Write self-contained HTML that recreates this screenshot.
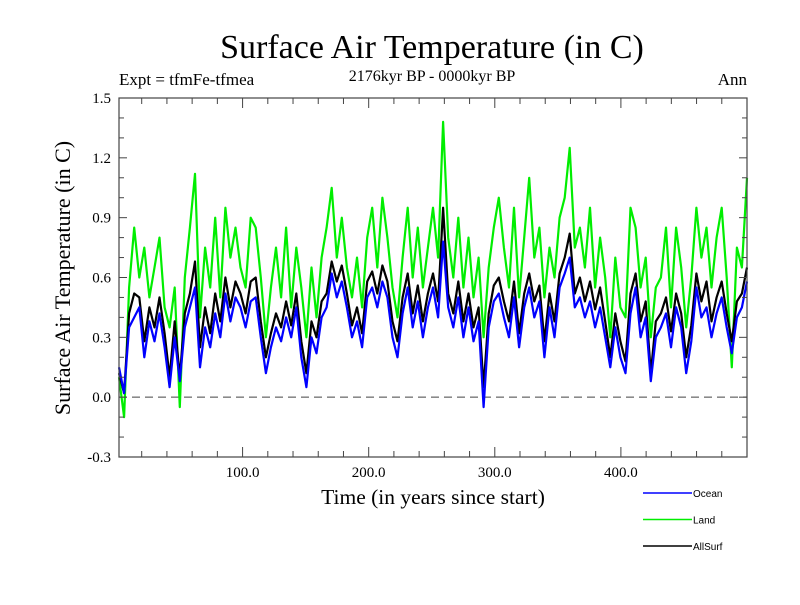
<!DOCTYPE html>
<html><head><meta charset="utf-8"><style>
body{margin:0;background:#fff}
svg text{font-family:"Liberation Serif",serif}
</style></head><body>
<svg id="chart" width="800" height="600" xmlns="http://www.w3.org/2000/svg">
<rect width="800" height="600" fill="#fff"/>
<text x="432" y="58" font-size="34" text-anchor="middle">Surface Air Temperature (in C)</text>
<text x="119" y="85" font-size="17">Expt = tfmFe-tfmea</text>
<text x="432" y="81" font-size="16" text-anchor="middle">2176kyr BP - 0000kyr BP</text>
<text x="747" y="85" font-size="17" text-anchor="end">Ann</text>
<text transform="translate(70,278) rotate(-90)" font-size="22" text-anchor="middle">Surface Air Temperature (in C)</text>
<text x="433" y="504" font-size="21.5" text-anchor="middle">Time (in years since start)</text>
<g id="plot"></g>
<g id="axes"></g>
<g id="legend"></g>
</svg>
<script>
const ocean=[0.15,0.02,0.35,0.40,0.45,0.20,0.38,0.28,0.42,0.25,0.05,0.30,0.08,0.35,0.45,0.55,0.15,0.35,0.25,0.42,0.30,0.52,0.38,0.50,0.45,0.35,0.48,0.50,0.30,0.12,0.25,0.35,0.28,0.40,0.30,0.45,0.20,0.05,0.30,0.22,0.40,0.45,0.62,0.50,0.58,0.45,0.30,0.38,0.25,0.50,0.55,0.45,0.58,0.50,0.30,0.20,0.42,0.55,0.35,0.48,0.30,0.45,0.55,0.40,0.78,0.45,0.35,0.50,0.30,0.45,0.28,0.38,-0.05,0.35,0.48,0.52,0.40,0.30,0.50,0.25,0.45,0.55,0.40,0.48,0.20,0.45,0.30,0.55,0.62,0.70,0.45,0.50,0.40,0.48,0.35,0.45,0.30,0.15,0.35,0.20,0.12,0.42,0.55,0.30,0.40,0.08,0.30,0.35,0.42,0.25,0.45,0.35,0.12,0.28,0.55,0.40,0.45,0.30,0.42,0.50,0.35,0.22,0.40,0.45,0.58];
const land=[0.10,-0.10,0.55,0.85,0.60,0.75,0.50,0.65,0.80,0.45,0.35,0.55,-0.05,0.60,0.85,1.12,0.40,0.75,0.55,0.90,0.50,0.95,0.70,0.85,0.65,0.55,0.90,0.85,0.60,0.30,0.55,0.75,0.50,0.85,0.45,0.75,0.55,0.30,0.65,0.40,0.70,0.85,1.05,0.70,0.90,0.65,0.50,0.70,0.45,0.80,0.95,0.65,1.00,0.80,0.55,0.40,0.70,0.95,0.60,0.85,0.55,0.75,0.95,0.70,1.38,0.80,0.60,0.90,0.55,0.80,0.50,0.70,0.30,0.65,0.85,1.00,0.75,0.55,0.95,0.50,0.80,1.10,0.70,0.85,0.50,0.75,0.60,0.90,1.00,1.25,0.75,0.85,0.65,0.95,0.55,0.80,0.60,0.30,0.70,0.45,0.40,0.95,0.85,0.55,0.70,0.30,0.55,0.60,0.85,0.45,0.85,0.65,0.35,0.60,0.95,0.70,0.85,0.55,0.80,0.95,0.60,0.15,0.75,0.65,1.10];
const allSurf=[0.12,0.02,0.42,0.52,0.50,0.28,0.45,0.35,0.50,0.32,0.10,0.38,0.10,0.42,0.52,0.68,0.25,0.45,0.32,0.52,0.38,0.60,0.45,0.58,0.52,0.42,0.58,0.60,0.38,0.20,0.32,0.42,0.35,0.48,0.36,0.52,0.28,0.12,0.38,0.30,0.48,0.52,0.68,0.58,0.66,0.52,0.36,0.45,0.32,0.58,0.63,0.52,0.66,0.58,0.38,0.28,0.50,0.62,0.42,0.56,0.38,0.52,0.62,0.48,0.95,0.52,0.42,0.58,0.38,0.52,0.35,0.45,0.05,0.42,0.56,0.60,0.48,0.38,0.58,0.32,0.52,0.62,0.48,0.56,0.28,0.52,0.38,0.62,0.70,0.82,0.52,0.60,0.48,0.58,0.44,0.55,0.38,0.20,0.42,0.28,0.18,0.52,0.62,0.38,0.48,0.12,0.38,0.42,0.50,0.33,0.52,0.42,0.20,0.36,0.62,0.48,0.58,0.38,0.50,0.58,0.42,0.28,0.48,0.52,0.65];
const yTicks=[-0.3,0.0,0.3,0.6,0.9,1.2,1.5];
const xTicks=[100,200,300,400];
const legendNames=["Ocean","Land","AllSurf"];
const legendColors=["#0000ff","#00ee00","#000000"];

const L=119,R=747,T=98,B=457,xMin=2,xMax=500,yMin=-0.3,yMax=1.5;
const sx=v=>L+(v-xMin)/(xMax-xMin)*(R-L);
const sy=v=>B-(v-yMin)/(yMax-yMin)*(B-T);
const NS="http://www.w3.org/2000/svg";
function mk(tag,attrs,parent){const e=document.createElementNS(NS,tag);for(const k in attrs)e.setAttribute(k,attrs[k]);parent.appendChild(e);return e;}
const plot=document.getElementById('plot'),axes=document.getElementById('axes'),legend=document.getElementById('legend');

const zl=mk('line',{x1:L,x2:R,y1:sy(0),y2:sy(0),stroke:'#444','stroke-dasharray':'8,5','stroke-width':1},plot);



function drawSeries(arr,color,name){
  const n=arr.length;
  const pts=arr.map((v,i)=>sx(xMin+i*(xMax-xMin)/(n-1)).toFixed(1)+','+sy(v).toFixed(1)).join(' ');
  const p=mk('polyline',{points:pts,fill:'none',stroke:color,'stroke-width':2.2,'stroke-linejoin':'round'},plot);
  
  
}
drawSeries(land,legendColors[1],'land-series');
drawSeries(allSurf,legendColors[2],'allsurf-series');
drawSeries(ocean,legendColors[0],'ocean-series');

const frame=mk('rect',{x:L,y:T,width:R-L,height:B-T,fill:'none',stroke:'#444','stroke-width':1.2},axes);



for(let v=-0.3;v<=1.5001;v+=0.1){
  const y=sy(v),major=Math.abs(Math.round(v*10)%3)===0;
  const len=major?8:5;
  mk('line',{x1:L,x2:L+len,y1:y,y2:y,stroke:'#444'},axes);
  mk('line',{x1:R,x2:R-len,y1:y,y2:y,stroke:'#444'},axes);
}
yTicks.forEach(v=>{
  const t=mk('text',{x:111,y:sy(v)+5,'font-size':15,'text-anchor':'end'},axes);
  t.textContent=v.toFixed(1);
  
  
});
for(let v=20;v<xMax;v+=20){
  const x=sx(v),major=v%100===0,len=major?10:6;
  mk('line',{x1:x,x2:x,y1:B,y2:B-len,stroke:'#444'},axes);
  mk('line',{x1:x,x2:x,y1:T,y2:T+len,stroke:'#444'},axes);
}
xTicks.forEach(v=>{
  const t=mk('text',{x:sx(v),y:477,'font-size':15,'text-anchor':'middle'},axes);
  t.textContent=v.toFixed(1);
  
  
});
legendNames.forEach((nm,i)=>{
  const y=493+i*26.5;
  const g=mk('g',{},legend);
  
  
  mk('line',{x1:643,x2:692,y1:y,y2:y,stroke:legendColors[i],'stroke-width':1.5},g);
  const t=mk('text',{x:693,y:y+4,'font-size':10,style:'font-family:"Liberation Sans",sans-serif'},g);
  t.textContent=nm;
});
</script>
</body></html>
